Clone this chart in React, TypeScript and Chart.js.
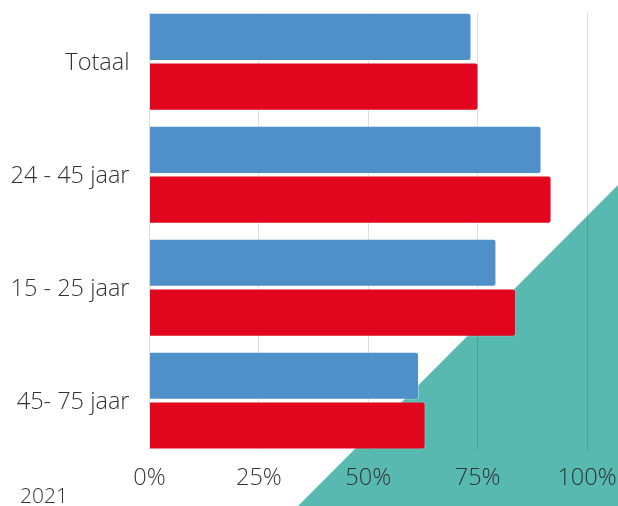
import React, { useEffect, useRef } from "react";
import { Chart, registerables } from "chart.js";

Chart.register(...registerables);

const categories = ["Totaal", "24 - 45 jaar", "15 - 25 jaar", "45- 75 jaar"];
const seriesBlue = [73.6, 89.6, 79.3, 61.6];
const seriesRed = [75.2, 91.9, 83.8, 63.1];
const xTicks = [0, 25, 50, 75, 100];
const yearLabel = "2021";

const FONT = "'Open Sans', 'DejaVu Sans', sans-serif";
const TEXT = "#333333";

const backgroundPlugin = {
  id: "tealTriangle",
  beforeDraw(chart: any) {
    const { ctx, width, height } = chart;
    ctx.save();
    ctx.fillStyle = "#57b9b0";
    ctx.beginPath();
    ctx.moveTo(width - 320, height);
    ctx.lineTo(width, height - 321);
    ctx.lineTo(width, height);
    ctx.closePath();
    ctx.fill();
    ctx.restore();
  },
  afterDraw(chart: any) {
    const { ctx } = chart;
    ctx.save();
    ctx.fillStyle = TEXT;
    ctx.font = `300 21px ${FONT}`;
    ctx.textBaseline = "alphabetic";
    ctx.textAlign = "left";
    ctx.fillText(yearLabel, 20, 503);
    ctx.restore();
  },
};

export default function App() {
  const ref = useRef<HTMLCanvasElement | null>(null);
  useEffect(() => {
    if (!ref.current) return;
    const idx = categories.map((_, i) => i);
    const chart = new Chart(ref.current, {
      type: "bar",
      data: {
        datasets: [
          {
            label: "A",
            data: idx.map((i) => ({ x: seriesBlue[i], y: i })),
            backgroundColor: "#4f90c8",
            borderColor: "rgba(255,255,255,0.35)",
            borderWidth: 1,
            borderRadius: 3,
            categoryPercentage: 0.881,
            barPercentage: 0.967,
          },
          {
            label: "B",
            data: idx.map((i) => ({ x: seriesRed[i], y: i })),
            backgroundColor: "#e2051e",
            borderColor: "rgba(255,255,255,0.25)",
            borderWidth: 1,
            borderRadius: 3,
            categoryPercentage: 0.881,
            barPercentage: 0.967,
          },
        ],
      },
      options: {
        indexAxis: "y",
        animation: false,
        responsive: false,
        maintainAspectRatio: false,
        layout: { padding: { top: 12.7, right: 31, left: 0, bottom: 0 } },
        plugins: { legend: { display: false }, tooltip: { enabled: false } },
        scales: {
          x: {
            type: "linear",
            min: 0,
            max: 100,
            offset: false,
            border: { display: false },
            grid: { color: "rgba(0,0,0,0.13)", lineWidth: 1, drawTicks: false, offset: false },
            afterBuildTicks: (scale: any) => {
              scale.ticks = xTicks.map((v) => ({ value: v }));
            },
            afterFit: (scale: any) => {
              scale.height = 56.3;
              scale.paddingLeft = 0;
              scale.paddingRight = 0;
            },
            ticks: {
              padding: 15,
              color: TEXT,
              font: { family: FONT, size: 23.5, weight: "300" },
              callback: (v: any) => `${v}%`,
            },
          },
          y: {
            type: "linear",
            reverse: true,
            min: -0.434,
            max: 3.434,
            offset: false,
            border: { display: false },
            grid: { display: false, drawTicks: false, offset: false },
            afterBuildTicks: (scale: any) => {
              scale.ticks = idx.map((v) => ({ value: v }));
            },
            afterFit: (scale: any) => {
              scale.width = 149.5;
              scale.paddingTop = 0;
              scale.paddingBottom = 0;
            },
            ticks: {
              padding: 20,
              labelOffset: 2,
              color: TEXT,
              font: { family: FONT, size: 23.5, weight: "300" },
              callback: (v: any) => categories[v] ?? "",
            },
          },
        },
      },
      plugins: [backgroundPlugin],
    });
    return () => chart.destroy();
  }, []);
  return (
    <div style={{ position: "fixed", left: 0, top: 0, width: 618, height: 506, background: "#fff" }}>
      <canvas ref={ref} width={618} height={506} style={{ display: "block" }} />
    </div>
  );
}
